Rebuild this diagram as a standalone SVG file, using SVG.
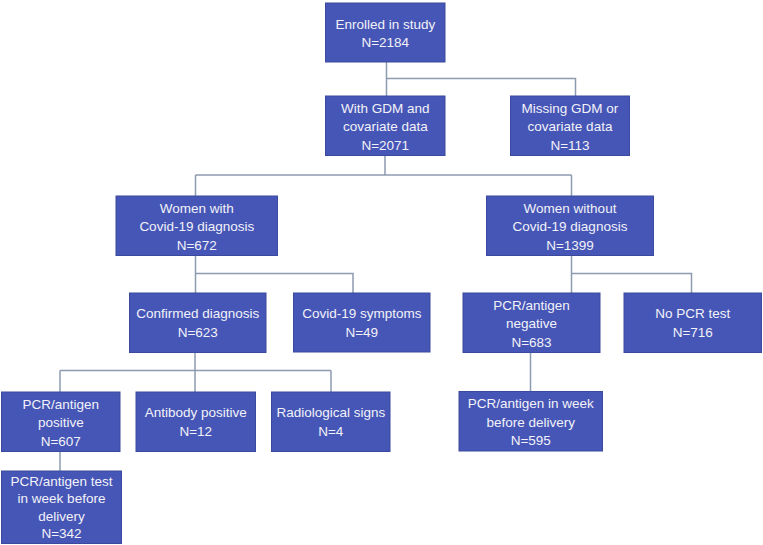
<svg xmlns="http://www.w3.org/2000/svg" width="763" height="545" viewBox="0 0 763 545">
<style>
.box{fill:#4656b6;stroke:#3b4a9e;stroke-width:1}
.t{font-family:"Liberation Sans",Arial,sans-serif;font-size:13.5px;fill:#f2f2f8;text-anchor:middle}
.c{fill:none;stroke:#8d9bb0;stroke-width:1.5}
</style>
<rect width="763" height="545" fill="#ffffff"/>
<g id="connectors">
<path class="c" d="M386.5,62 V96 M386.5,78.5 H575.5 V96"/>
<path class="c" d="M385,155.5 V175 M195.5,175 H571.5 M195.5,175 V196 M571.5,175 V196"/>
<path class="c" d="M195.5,255.5 V293 M195.5,273.5 H353 V293"/>
<path class="c" d="M571.5,255.5 V273.5 V293 M571.5,273.5 H691.5 V293"/>
<path class="c" d="M195,352.5 V392 M60,370.5 H331 M60,370.5 V392 M331,370.5 V392"/>
<path class="c" d="M60,451.5 V471"/>
<path class="c" d="M530.5,352.5 V391.5"/>
</g>
<g id="n_enrolled"><rect class="box" x="325.5" y="3" width="119.5" height="59"/>
<text class="t"><tspan x="385.3" y="28.5">Enrolled in study</tspan><tspan x="385.3" y="47">N=2184</tspan></text></g>
<g id="n_withgdm"><rect class="box" x="325.5" y="96" width="119.5" height="59.5"/>
<text class="t"><tspan x="385.3" y="112.5">With GDM and</tspan><tspan x="385.3" y="131">covariate data</tspan><tspan x="385.3" y="149.5">N=2071</tspan></text></g>
<g id="n_missing"><rect class="box" x="510.5" y="96" width="119" height="59.5"/>
<text class="t"><tspan x="570" y="112.5">Missing GDM or</tspan><tspan x="570" y="131">covariate data</tspan><tspan x="570" y="149.5">N=113</tspan></text></g>
<g id="n_womenwith"><rect class="box" x="116" y="196" width="161.5" height="59.5"/>
<text class="t"><tspan x="196.8" y="212.5">Women with</tspan><tspan x="196.8" y="231">Covid-19 diagnosis</tspan><tspan x="196.8" y="249.5">N=672</tspan></text></g>
<g id="n_womenwithout"><rect class="box" x="486.5" y="196" width="167" height="59.5"/>
<text class="t"><tspan x="570" y="212.5">Women without</tspan><tspan x="570" y="231">Covid-19 diagnosis</tspan><tspan x="570" y="249.5">N=1399</tspan></text></g>
<g id="n_confirmed"><rect class="box" x="129.5" y="293" width="136.5" height="59.5"/>
<text class="t"><tspan x="197.8" y="318">Confirmed diagnosis</tspan><tspan x="197.8" y="336.5">N=623</tspan></text></g>
<g id="n_symptoms"><rect class="box" x="293.5" y="293" width="136.5" height="59"/>
<text class="t"><tspan x="361.8" y="318">Covid-19 symptoms</tspan><tspan x="361.8" y="336.5">N=49</tspan></text></g>
<g id="n_pcrneg"><rect class="box" x="463" y="293" width="137" height="59.5"/>
<text class="t"><tspan x="531.5" y="309.5">PCR/antigen</tspan><tspan x="531.5" y="328">negative</tspan><tspan x="531.5" y="346.5">N=683</tspan></text></g>
<g id="n_nopcr"><rect class="box" x="624" y="293" width="137.5" height="59.5"/>
<text class="t"><tspan x="692.8" y="318">No PCR test</tspan><tspan x="692.8" y="336.5">N=716</tspan></text></g>
<g id="n_pcrpos"><rect class="box" x="1.5" y="392" width="118.5" height="59.5"/>
<text class="t"><tspan x="60.8" y="408.5">PCR/antigen</tspan><tspan x="60.8" y="427">positive</tspan><tspan x="60.8" y="445.5">N=607</tspan></text></g>
<g id="n_antibody"><rect class="box" x="136" y="392" width="119.5" height="59.5"/>
<text class="t"><tspan x="195.8" y="417">Antibody positive</tspan><tspan x="195.8" y="435.5">N=12</tspan></text></g>
<g id="n_radio"><rect class="box" x="271.5" y="392" width="118.5" height="59.5"/>
<text class="t"><tspan x="330.8" y="417">Radiological signs</tspan><tspan x="330.8" y="435.5">N=4</tspan></text></g>
<g id="n_pcrweekneg"><rect class="box" x="459" y="391.5" width="143.5" height="59.5"/>
<text class="t"><tspan x="530.8" y="408">PCR/antigen in week</tspan><tspan x="530.8" y="426.5">before delivery</tspan><tspan x="530.8" y="445">N=595</tspan></text></g>
<g id="n_pcrweekpos"><rect class="box" x="1.5" y="471" width="120" height="72.5"/>
<text class="t"><tspan x="61.5" y="485.5">PCR/antigen test</tspan><tspan x="61.5" y="503">in week before</tspan><tspan x="61.5" y="520.5">delivery</tspan><tspan x="61.5" y="538">N=342</tspan></text></g>
</svg>
